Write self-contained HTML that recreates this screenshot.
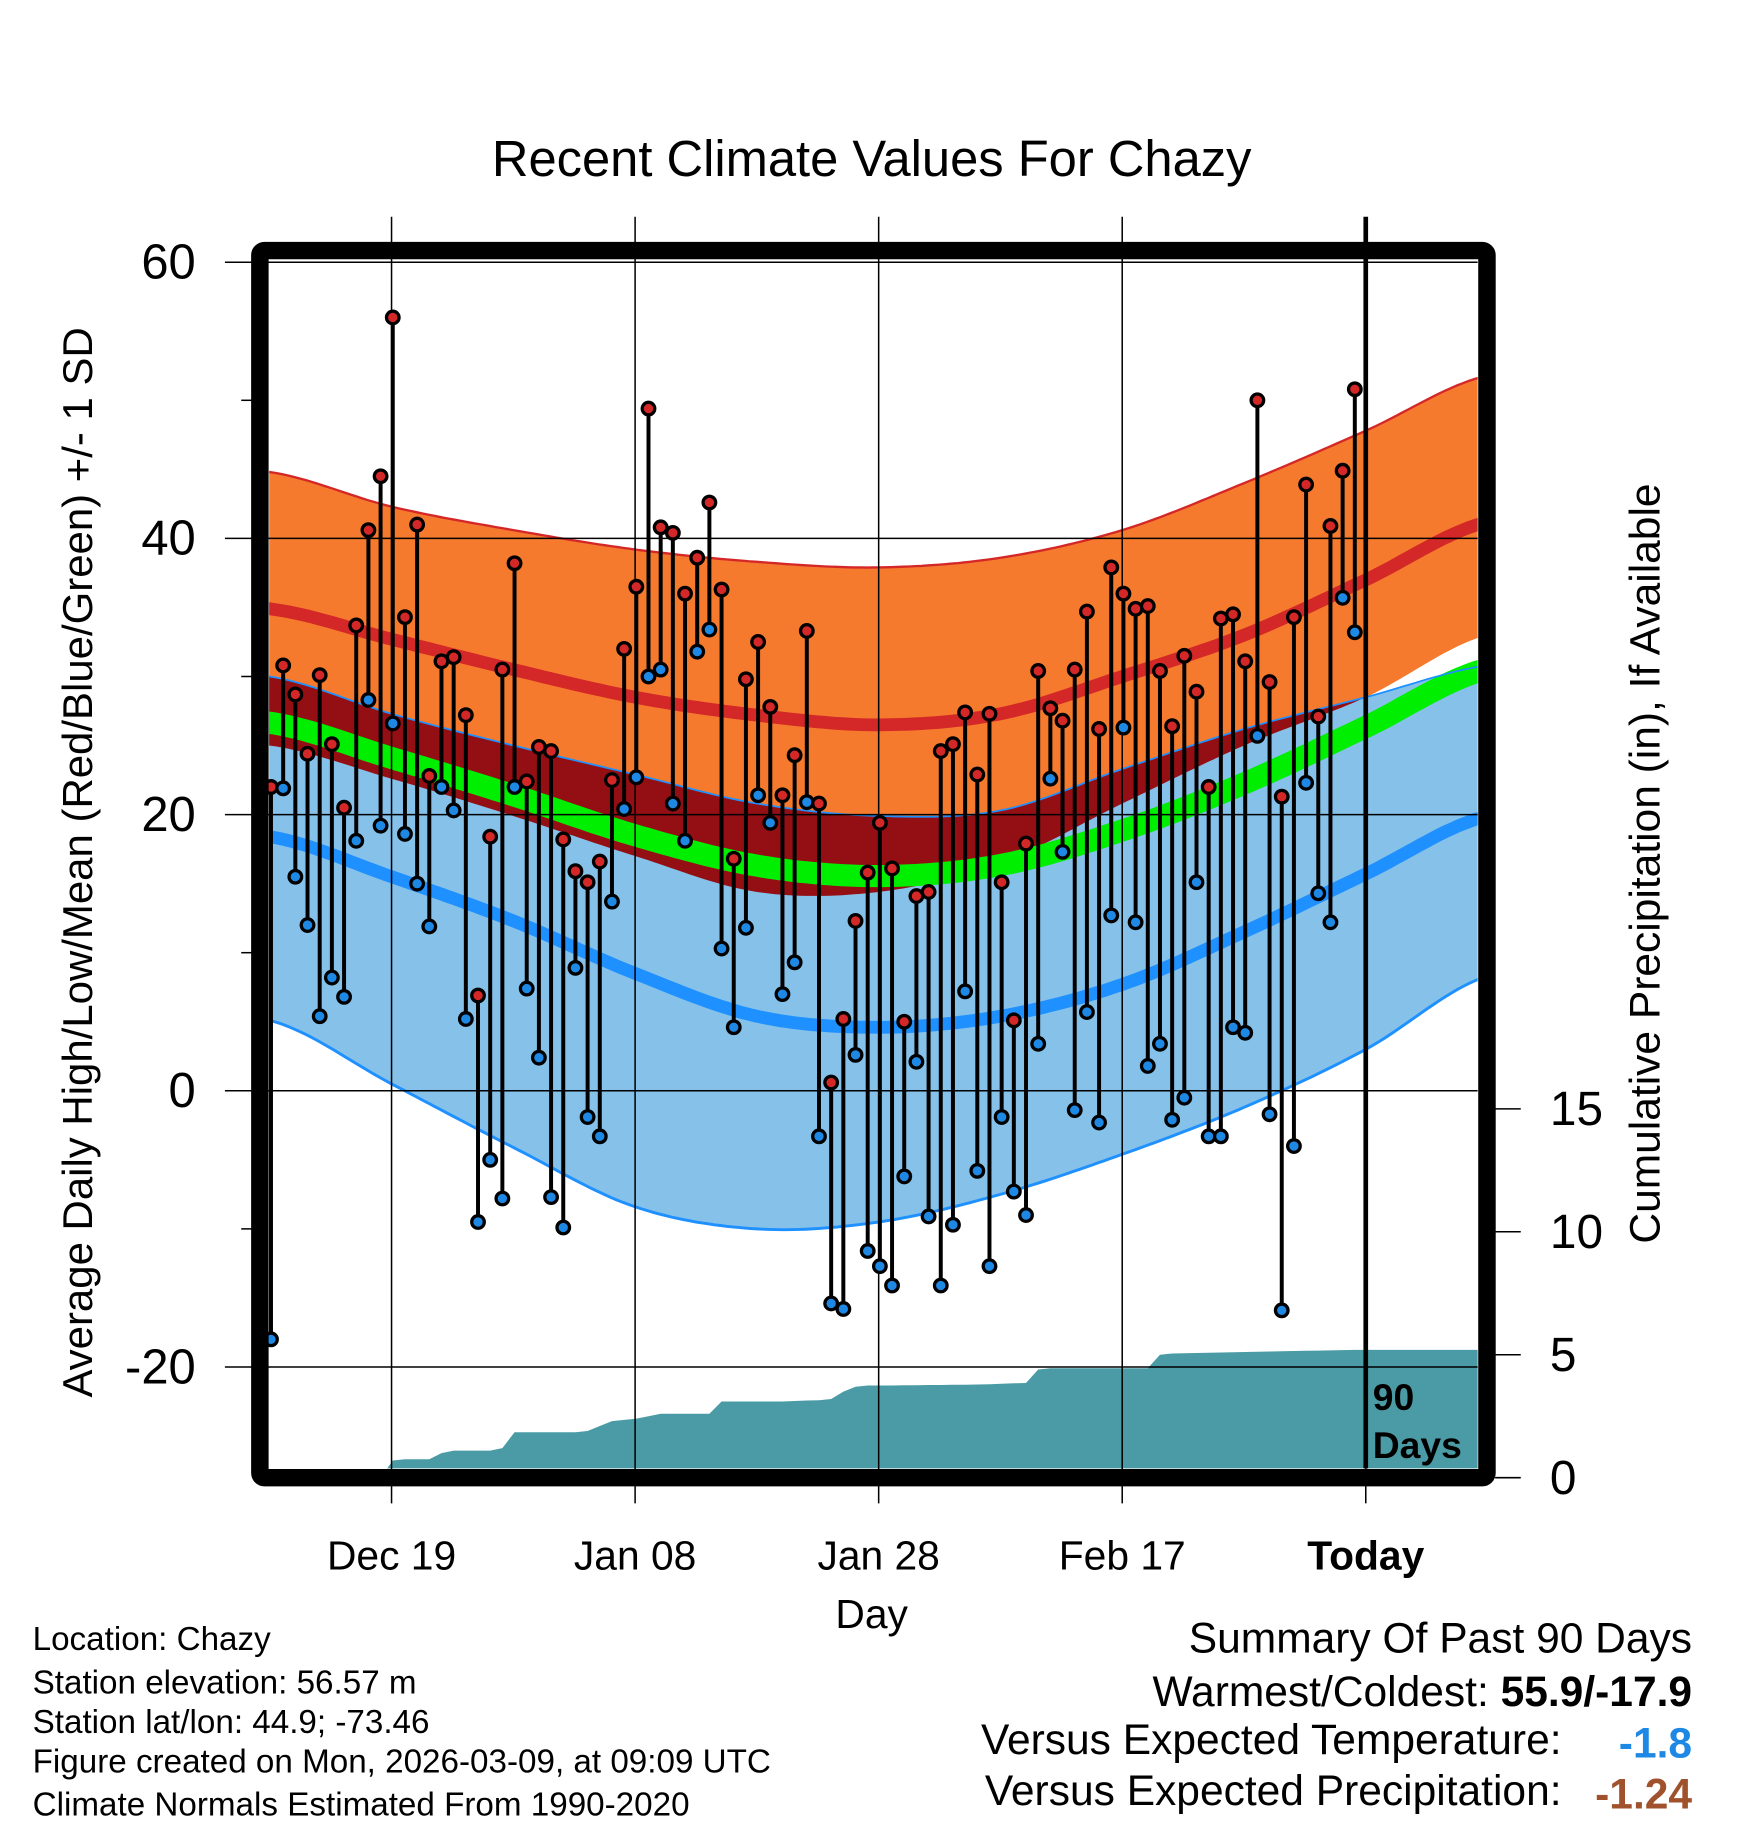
<!DOCTYPE html>
<html><head><meta charset="utf-8"><style>
html,body{margin:0;padding:0;background:#fff;}
svg{display:block;font-family:"Liberation Sans",sans-serif;}
</style></head><body>
<svg id="chart" width="1748" height="1828" viewBox="0 0 1500 1568.6" preserveAspectRatio="none" xmlns="http://www.w3.org/2000/svg">
<defs><clipPath id="pc"><rect x="231" y="222" width="1037" height="1038"/></clipPath></defs>
<text x="748" y="151" font-size="43.5" text-anchor="middle">Recent Climate Values For Chazy</text>
<g id="bands" clip-path="url(#pc)"></g>
<g id="precip" clip-path="url(#pc)"></g>
<g id="grid"></g>
<g id="marks"></g>
<rect x="223" y="215" width="1053" height="1053" rx="4" fill="none" stroke="#000" stroke-width="15"/>
<g id="axes"></g>
<text transform="translate(79,740) rotate(-90)" font-size="36" text-anchor="middle">Average Daily High/Low/Mean (Red/Blue/Green) +/- 1 SD</text>
<text transform="translate(1424,741) rotate(-90)" font-size="36.5" text-anchor="middle">Cumulative Precipitation (in), If Available</text>
<text x="748" y="1397" font-size="35" text-anchor="middle">Day</text>
<text x="1178" y="1210" font-size="32" font-weight="bold">90</text>
<text x="1178" y="1251" font-size="32" font-weight="bold">Days</text>
<g font-size="28.5">
<text x="28" y="1416">Location: Chazy</text>
<text x="28" y="1453">Station elevation: 56.57 m</text>
<text x="28" y="1487">Station lat/lon: 44.9; -73.46</text>
<text x="28" y="1521">Figure created on Mon, 2026-03-09, at 09:09 UTC</text>
<text x="28" y="1558">Climate Normals Estimated From 1990-2020</text>
</g>
<g font-size="36.5">
<text x="1452" y="1418" text-anchor="end">Summary Of Past 90 Days</text>
<text x="1452" y="1464" text-anchor="end">Warmest/Coldest: <tspan font-weight="bold">55.9/-17.9</tspan></text>
<text x="1340" y="1505" text-anchor="end">Versus Expected Temperature:</text>
<text x="1452" y="1508" text-anchor="end" fill="#1e88e5" font-weight="bold">-1.8</text>
<text x="1340" y="1549" text-anchor="end">Versus Expected Precipitation:</text>
<text x="1452" y="1552" text-anchor="end" fill="#a0522d" font-weight="bold">-1.24</text>
</g>
</svg>
<script>
const highs=[22.0,30.8,28.7,24.4,30.1,25.1,20.5,33.7,40.6,44.5,56.0,34.3,41.0,22.8,31.1,31.4,27.2,6.9,18.4,30.5,38.2,22.4,24.9,24.6,18.2,15.9,15.1,16.6,22.5,32.0,36.5,49.4,40.8,40.4,36.0,38.6,42.6,36.3,16.8,29.8,32.5,27.8,21.4,24.3,33.3,20.8,0.6,5.2,12.3,15.8,19.4,16.1,5.0,14.1,14.4,24.6,25.1,27.4,22.9,27.3,15.1,5.1,17.9,30.4,27.7,26.8,30.5,34.7,26.2,37.9,36.0,34.9,35.1,30.4,26.4,31.5,28.9,22.0,34.2,34.5,31.1,50.0,29.6,21.3,34.3,43.9,27.1,40.9,44.9,50.8];
const lows=[-18.0,21.9,15.5,12.0,5.4,8.2,6.8,18.1,28.3,19.2,26.6,18.6,15.0,11.9,22.0,20.3,5.2,-9.5,-5.0,-7.8,22.0,7.4,2.4,-7.7,-9.9,8.9,-1.9,-3.3,13.7,20.4,22.7,30.0,30.5,20.8,18.1,31.8,33.4,10.3,4.6,11.8,21.4,19.4,7.0,9.3,20.9,-3.3,-15.4,-15.8,2.6,-11.6,-12.7,-14.1,-6.2,2.1,-9.1,-14.1,-9.7,7.2,-5.8,-12.7,-1.9,-7.3,-9.0,3.4,22.6,17.3,-1.4,5.7,-2.3,12.7,26.3,12.2,1.8,3.4,-2.1,-0.5,15.1,-3.3,-3.3,4.6,4.2,25.7,-1.7,-15.9,-4.0,22.3,14.3,12.2,35.7,33.2];
const precipCum=[0,0,0,0,0,0,0,0,0,0,0.7,0.75,0.75,0.75,1.0,1.1,1.1,1.1,1.1,1.2,1.85,1.85,1.85,1.85,1.85,1.85,1.9,2.1,2.3,2.35,2.4,2.5,2.6,2.6,2.6,2.6,2.6,3.1,3.1,3.1,3.1,3.1,3.1,3.12,3.14,3.15,3.2,3.5,3.7,3.75,3.75,3.75,3.76,3.76,3.77,3.77,3.78,3.78,3.79,3.8,3.82,3.84,3.85,4.4,4.45,4.45,4.45,4.45,4.45,4.45,4.45,4.45,4.45,5.0,5.05,5.06,5.07,5.08,5.09,5.1,5.11,5.12,5.13,5.14,5.15,5.16,5.17,5.18,5.19,5.2];
const normDays=[-90,-80,-70,-60,-50,-40,-30,-20,-10,0,10];
const highUpper=[44.8,42.3,40.6,39.2,38.3,37.9,38.6,40.6,44.0,47.8,51.8];
const highMean=[34.9,32.7,30.5,28.5,27.2,26.5,27.3,30.0,33.0,37.0,41.2];
const highLower=[25.0,22.6,19.9,17.0,14.4,14.4,16.5,20.8,25.0,28.5,33.0];
const lowUpper=[30.0,27.3,25.0,22.9,20.8,19.9,20.3,23.3,26.2,28.5,30.8];
const lowMean=[18.4,15.5,12.3,8.5,5.4,4.6,5.4,7.7,11.5,15.7,19.9];
const lowLower=[5.1,0.5,-4.1,-8.4,-10.0,-9.5,-7.5,-4.6,-1.2,3.0,8.3];
const yTicks=[60,40,20,0,-20];
const yMinor=[50,30,10,-10];
const precipTicks=[0,5,10,15];
const xTickDays=[-80,-60,-40,-20,0];
const xTickLabels=["Dec 19","Jan 08","Jan 28","Feb 17","Today"];

const NS="http://www.w3.org/2000/svg";
const X=d=>1172+d*10.45;
const Y=v=>936-v*11.85;
const P=v=>1268-v*21.1;
function mk(tag,attrs,parent){const e=document.createElementNS(NS,tag);for(const k in attrs)e.setAttribute(k,attrs[k]);parent.appendChild(e);return e;}
function interp(arr,d){
  let i=Math.floor((d-normDays[0])/10);i=Math.max(0,Math.min(normDays.length-2,i));
  const t=(d-normDays[i])/10;
  const p0=arr[Math.max(0,i-1)],p1=arr[i],p2=arr[i+1],p3=arr[Math.min(arr.length-1,i+2)];
  return 0.5*((2*p1)+(-p0+p2)*t+(2*p0-5*p1+4*p2-p3)*t*t+(-p0+3*p1-3*p2+p3)*t*t*t);
}
const samp=[];for(let d=-91;d<=11;d+=0.5)samp.push(d);
function band(upF,loF,fill,name){
  const top=samp.map(d=>X(d).toFixed(1)+","+Y(upF(d)).toFixed(1));
  const bot=samp.slice().reverse().map(d=>X(d).toFixed(1)+","+Y(loF(d)).toFixed(1));
  const e=mk('polygon',{points:top.concat(bot).join(' '),fill:fill},bands);
  
  
}
function line(f,stroke,w,name){
  const e=mk('polyline',{points:samp.map(d=>X(d).toFixed(1)+","+Y(f(d)).toFixed(1)).join(' '),fill:'none',stroke:stroke,'stroke-width':w},bands);
  
  
}
const bands=document.getElementById('bands');
band(d=>interp(highUpper,d),d=>interp(highLower,d),'#f57a2e','high-sd-band');
band(d=>interp(lowUpper,d),d=>interp(lowLower,d),'#85c1e9','low-sd-band');
band(d=>interp(lowUpper,d),d=>{const u=interp(lowUpper,d);return Math.min(u,Math.max(interp(highLower,d),interp(lowLower,d)));},'#940f14','overlap-band');
line(d=>(interp(highMean,d)+interp(lowMean,d))/2,'#00ee00',19,'mean-line');
line(d=>interp(highMean,d),'#d42727',11,'high-mean-line');
line(d=>interp(lowMean,d),'#1e90ff',11,'low-mean-line');
line(d=>interp(highUpper,d),'#d42727',2,'high-upper-edge');
line(d=>interp(lowUpper,d),'#1e90ff',1.5,'low-upper-edge');
line(d=>interp(lowLower,d),'#1e90ff',2.5,'low-lower-edge');

// precip
const pg=document.getElementById('precip');
let pts=[X(-90.5)+","+P(0)];
precipCum.forEach((v,i)=>{pts.push(X(i-89.9)+","+P(v));});
const last=precipCum[precipCum.length-1];
pts.push(X(11)+","+P(last));pts.push(X(11)+","+P(0));
const pa=mk('polygon',{points:pts.join(' '),fill:'#4a9ba5'},pg);



// grid
const grid=document.getElementById('grid');
yTicks.forEach(v=>{const g=mk('line',{x1:193,x2:1268,y1:Y(v),y2:Y(v),stroke:'#000','stroke-width':1.3},grid);});
xTickDays.forEach((d,i)=>{const g=mk('line',{x1:X(d),x2:X(d),y1:186,y2:(i==4?1260:1290),stroke:'#000','stroke-width':(i==4?4:1.3)},grid);
 if(i==4){const g2=mk('line',{x1:X(d),x2:X(d),y1:1260,y2:1290,stroke:'#000','stroke-width':1.3},grid);}});
yMinor.forEach(v=>{const g=mk('line',{x1:207,x2:216,y1:Y(v),y2:Y(v),stroke:'#000','stroke-width':1.3},grid);});

// marks
const marks=document.getElementById('marks');
highs.forEach((h,i)=>{const x=X(i-89.9);const l=mk('line',{x1:x,x2:x,y1:Y(h),y2:Y(lows[i]),stroke:'#000','stroke-width':3.4},marks);});
highs.forEach((h,i)=>{const x=X(i-89.9);
 const c1=mk('circle',{cx:x,cy:Y(h),r:5.4,fill:'#d42727',stroke:'#000','stroke-width':2.8},marks);
 const c2=mk('circle',{cx:x,cy:Y(lows[i]),r:5.4,fill:'#1e88e5',stroke:'#000','stroke-width':2.8},marks);});

// axes labels
const axes=document.getElementById('axes');
yTicks.forEach(v=>{const t=mk('text',{x:168,y:Y(v)+14,'font-size':42,'text-anchor':'end'},axes);t.textContent=v;});
precipTicks.forEach(v=>{const l=mk('line',{x1:1283,x2:1305,y1:P(v),y2:P(v),stroke:'#000','stroke-width':1.3},axes);
 const t=mk('text',{x:1330,y:P(v)+14,'font-size':41},axes);t.textContent=v;});
xTickDays.forEach((d,i)=>{const t=mk('text',{x:X(d),y:1347,'font-size':35,'text-anchor':'middle','font-weight':(i==4?'bold':'normal')},axes);t.textContent=xTickLabels[i];});
</script>
</body></html>
